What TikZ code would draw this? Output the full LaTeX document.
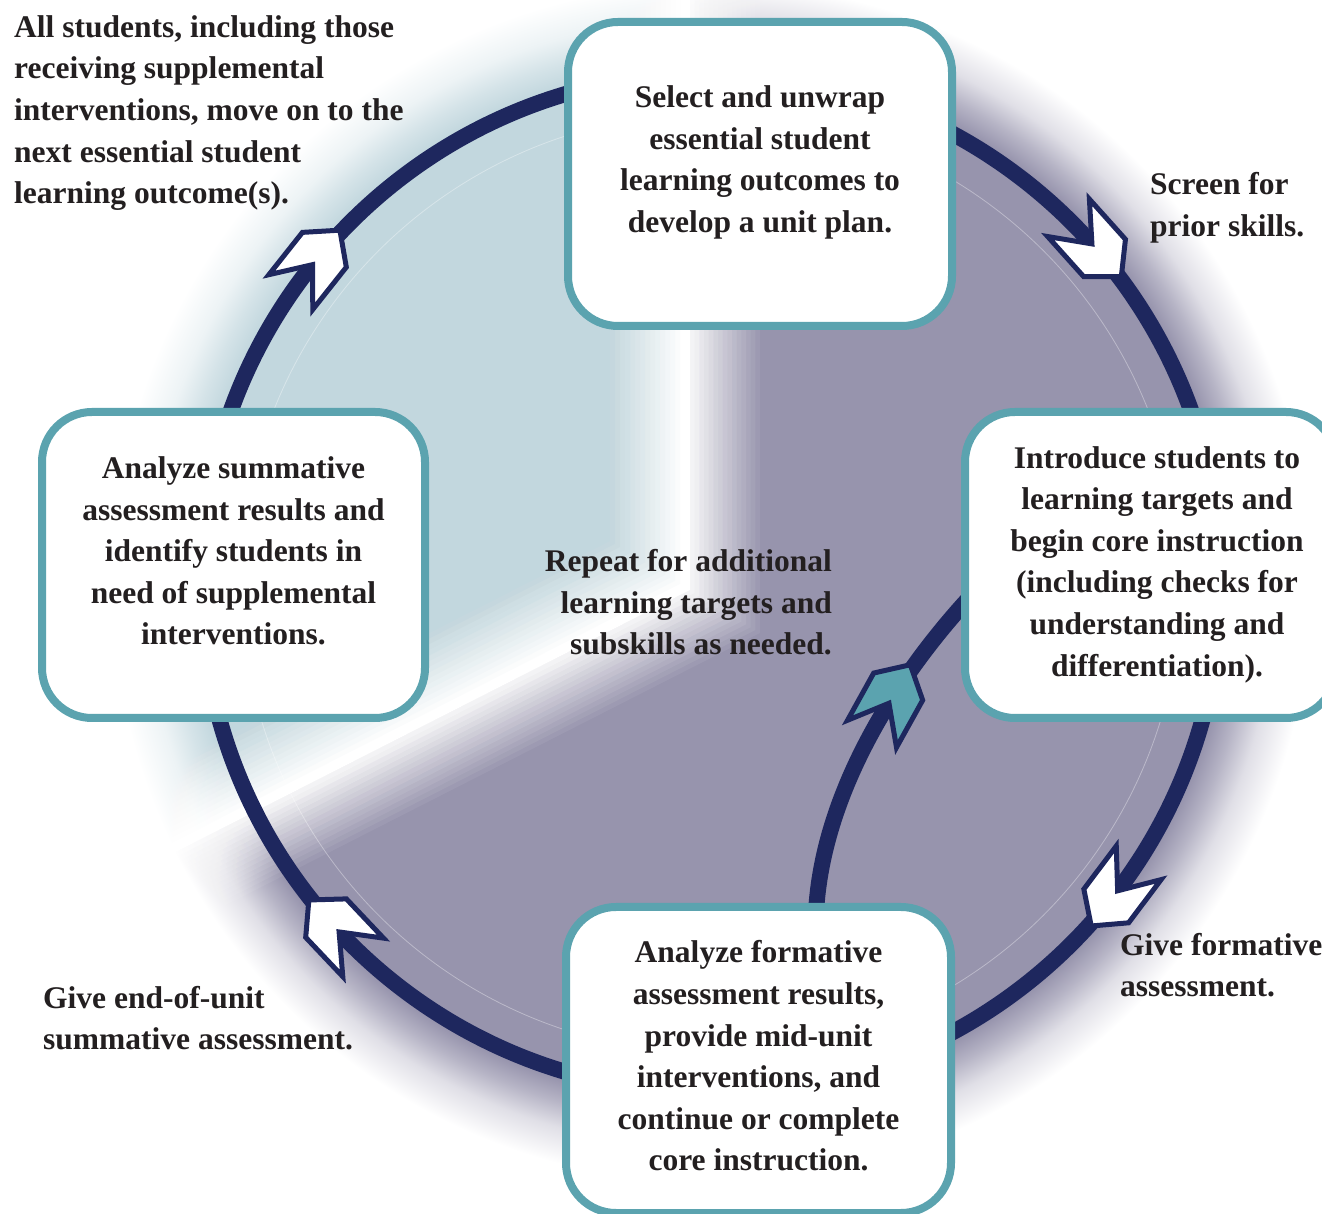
\documentclass[tikz,border=0pt]{standalone}
\usepackage{fontspec}
\setmainfont{Liberation Serif}
\usetikzlibrary{calc,backgrounds}

\definecolor{navy}{RGB}{30,39,94}
\definecolor{teal1}{RGB}{91,163,175}
\definecolor{purp}{RGB}{151,148,173}
\definecolor{paleblue}{RGB}{194,215,222}
\definecolor{ink}{RGB}{35,31,32}
\colorlet{purpA}{purp!70!white}
\colorlet{purpB}{purp!30!white}
\colorlet{paleA}{paleblue!70!white}
\colorlet{paleB}{paleblue!30!white}

\pgfdeclareradialshading{purpglow}{\pgfpoint{0bp}{0bp}}{color(0bp)=(purp); color(21.58bp)=(purp); color(22.5bp)=(purpA); color(23.54bp)=(purpB); color(25bp)=(white); color(50bp)=(white)}
\pgfdeclareradialshading{blueglow}{\pgfpoint{0bp}{0bp}}{color(0bp)=(paleblue); color(21.58bp)=(paleblue); color(22.5bp)=(paleA); color(23.54bp)=(paleB); color(25bp)=(white); color(50bp)=(white)}

\begin{document}
\begin{tikzpicture}[x=1pt,y=1pt,
  stepbox/.style={draw=teal1,line width=8,fill=white,rounded corners=50,inner sep=0},
  steptext/.style={align=center,text=ink,inner sep=0,font=\bfseries\fontsize{31.5}{41.6}\selectfont},
  note/.style={align=left,anchor=west,text=ink,inner sep=0,font=\bfseries\fontsize{31.5}{41.6}\selectfont},
  chevron/.style={draw=navy,line width=5,line join=miter,fill=white}]
\useasboundingbox (0,0) rectangle (1322,1213);
\coordinate (C) at (711,630);
\coordinate (A) at (690,623);

% soft disc behind the cycle
\begin{scope}[on background layer]
  \shade[shading=purpglow] (C) circle (600);
  \begin{scope}
    \clip (C) circle (600);
    \foreach \k in {1,...,16}{
      \pgfmathsetmacro\op{1/\k}
      \pgfmathsetmacro\d{70*(\k-1)/15}
      \fill[white,opacity=\op] ($(A)+(\d,-0.613*\d)$) -- ++(0,800) -- ++(-1400,0) -- ++(0,-1513) -- cycle;
    }
    \foreach \k in {1,...,16}{
      \pgfmathsetmacro\op{1/\k}
      \pgfmathsetmacro\d{-85+75*(\k-1)/15}
      \begin{scope}
        \clip ($(A)+(\d,-0.613*\d)$) -- ++(0,800) -- ++(-1400,0) -- ++(0,-1513) -- cycle;
        \shade[shading=blueglow,opacity=\op] (C) circle (600);
      \end{scope}
    }
  \end{scope}
  \draw[white,opacity=.35,line width=.8] (C) circle (470);
  \draw[navy,line width=16] (C) circle (510);
\end{scope}

% arrows on the cycle
\foreach \t in {141.6,41.9,-36.9,223.4}
  \draw[chevron,shift={($(C)+(\t:510)$)},rotate=\t-90]
    (46,0) -- (21,28) -- (-33,28) -- (2,0) -- (-33,-28) -- (21,-28) -- cycle;

% the four steps
\node[stepbox,minimum width=384,minimum height=304] (select) at (760,1039) {};
\node[stepbox,minimum width=371,minimum height=306] (introduce) at (1150.5,648) {};
\node[stepbox,minimum width=385,minimum height=306] (formative) at (758.5,153) {};
\node[stepbox,minimum width=383,minimum height=306] (summative) at (233.5,648) {};

\node[steptext] (t1) at (760,1050.5) {Select and unwrap\\essential student\\learning outcomes to\\develop a unit plan.};
\node[steptext] (t2) at (1157,648.5) {Introduce students to\\learning targets and\\begin core instruction\\(including checks for\\understanding and\\differentiation).};
\node[steptext] (t3) at (758.5,157) {Analyze formative\\assessment results,\\provide mid-unit\\interventions, and\\continue or complete\\core instruction.};
\node[steptext] (t4) at (233.5,662) {Analyze summative\\assessment results and\\identify students in\\need of supplemental\\interventions.};

\node[steptext,align=right,anchor=east] (repeat) at (832,610.5) {Repeat for additional\\learning targets and\\subskills as needed.};

\node[note] (n1) at (14,1100) {All students, including those\\receiving supplemental\\interventions, move on to the\\next essential student\\learning outcome(s).};
\node[note] (n2) at (1150,1005.5) {Screen for\\prior skills.};
\node[note] (n3) at (1120,248) {Give formative\\assessment.};
\node[note] (n4) at (43,195) {Give end-of-unit\\summative assessment.};

% inner loop back to instruction
\begin{scope}[on background layer]
  \draw[navy,line width=16] ($(formative.north)+(57.5,-10)$) .. controls (822,418) and (895,535) .. ($(introduce.west)+(10,-31)$);
\end{scope}
\draw[chevron,fill=teal1,shift={(888,508)},rotate=61]
  (46,0) -- (21,28) -- (-33,28) -- (2,0) -- (-33,-28) -- (21,-28) -- cycle;
\end{tikzpicture}
\end{document}
